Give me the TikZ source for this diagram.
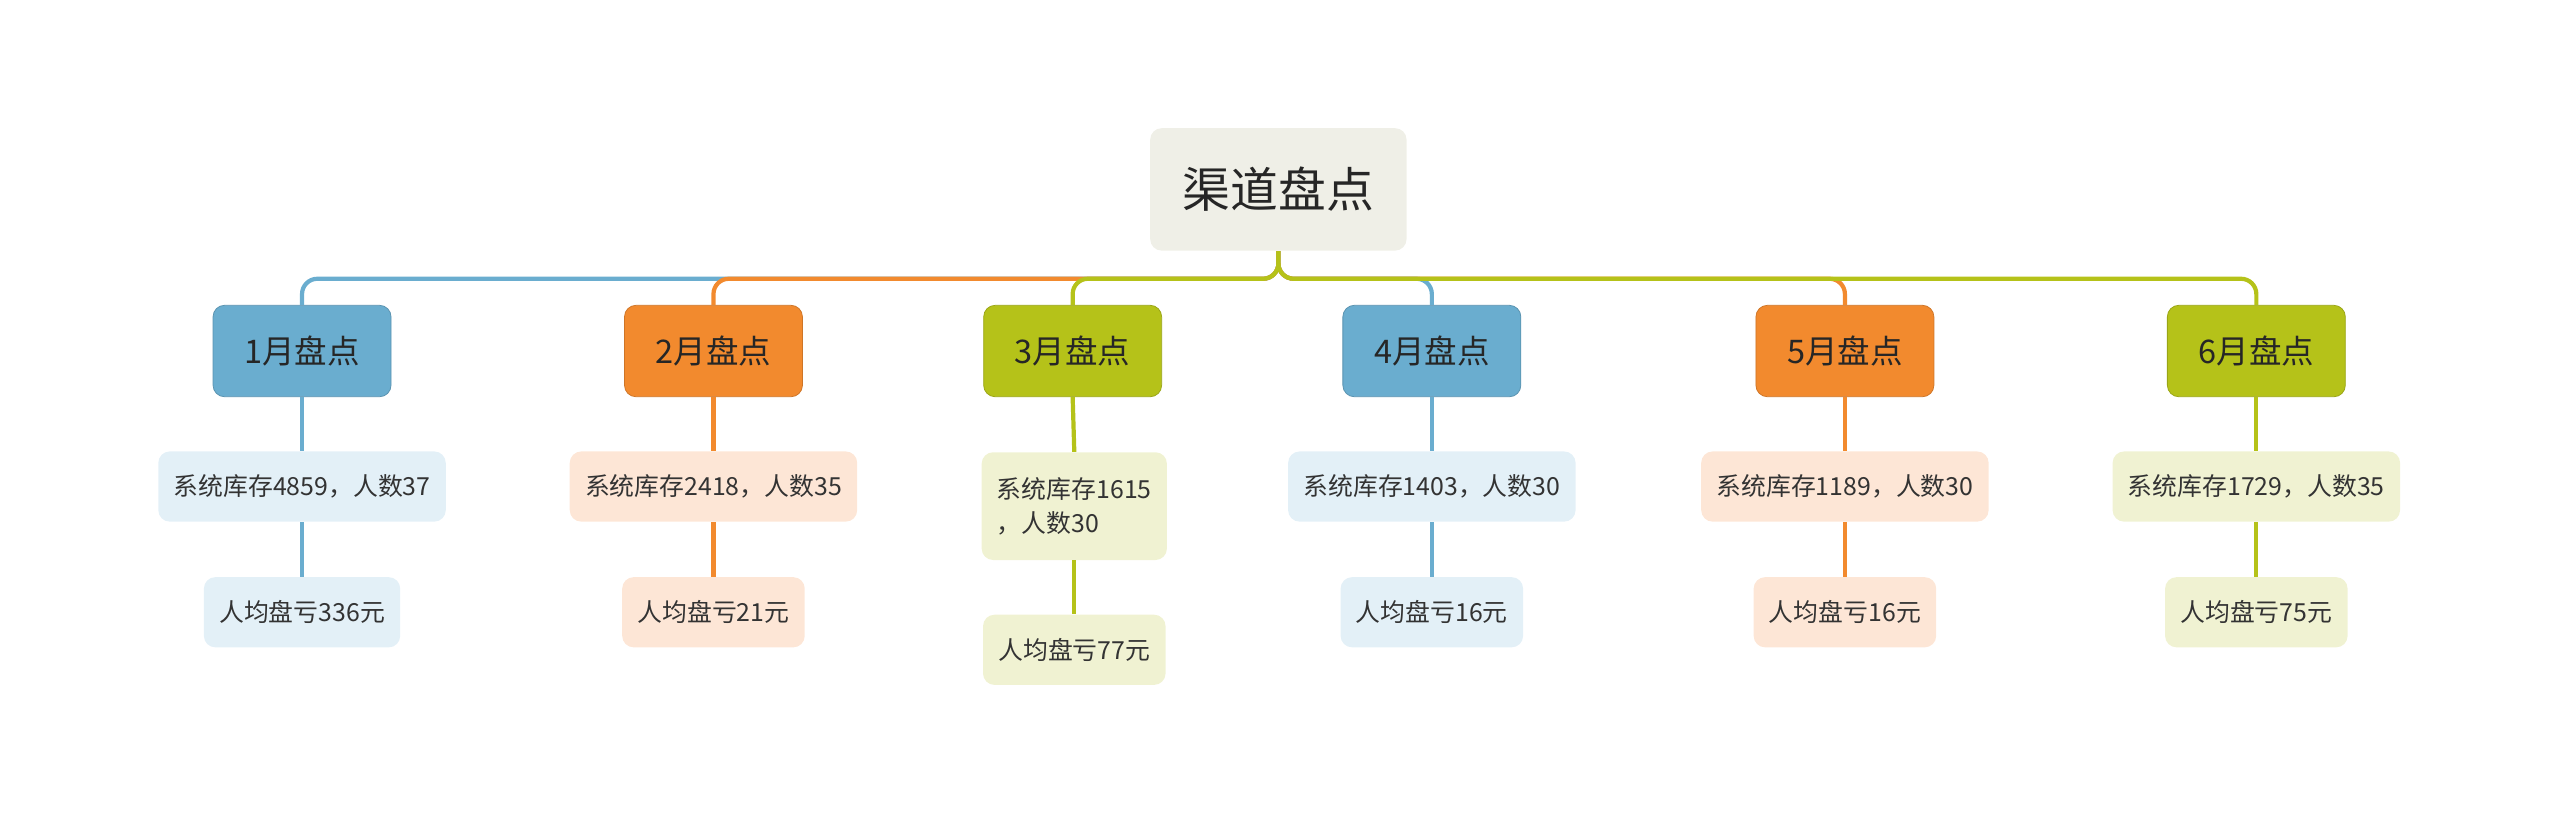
\documentclass[tikz,border=0pt]{standalone}
\usepackage{fontspec}
\setmainfont{Noto Sans CJK SC}
\usetikzlibrary{positioning}
\definecolor{cblue}{HTML}{6AADCF}
\definecolor{corange}{HTML}{F28A2E}
\definecolor{cgreen}{HTML}{B5C219}
\definecolor{lblue}{HTML}{E3F0F7}
\definecolor{lorange}{HTML}{FDE6D6}
\definecolor{lgreen}{HTML}{F0F2D2}
\definecolor{rootfill}{HTML}{EFEFE7}
\begin{document}
\begin{tikzpicture}[
  x=0.03cm, y=-0.03cm,
  root/.style={rounded corners=6pt, fill=rootfill, minimum width=4.71cm, minimum height=2.25cm,
    font=\fontsize{25}{30}\selectfont, text=black!85},
  month/.style={rounded corners=6pt, draw=#1!85!black, fill=#1, minimum width=3.27cm,
    minimum height=1.68cm, font=\fontsize{17}{20}\selectfont, text=black!85},
  info/.style={rounded corners=6pt, fill=#1, minimum height=1.29cm, inner xsep=8pt,
    font=\fontsize{13}{18}\selectfont, text=black!80},
  link/.style={line width=2.2pt, rounded corners=8pt}
]
\useasboundingbox (0,0) rectangle (1568,499);

% Root
\node[root] (r) at (783,116) {渠道盘点};

% Months
\node[month=cblue]   (m1) at (185,215) {1月盘点};
\node[month=corange] (m2) at (437,215) {2月盘点};
\node[month=cgreen]  (m3) at (657,215) {3月盘点};
\node[month=cblue]   (m4) at (877,215) {4月盘点};
\node[month=corange] (m5) at (1130,215) {5月盘点};
\node[month=cgreen]  (m6) at (1382,215) {6月盘点};

% Stock and headcount
\node[info=lblue]   (s1) at (185,298) {系统库存4859，人数37};
\node[info=lorange] (s2) at (437,298) {系统库存2418，人数35};
\node[info=lgreen, minimum height=1.98cm, align=left] (s3) at (658,310) {系统库存1615\\，人数30};
\node[info=lblue]   (s4) at (877,298) {系统库存1403，人数30};
\node[info=lorange] (s5) at (1130,298) {系统库存1189，人数30};
\node[info=lgreen]  (s6) at (1382,298) {系统库存1729，人数35};

% Loss per person
\node[info=lblue]   (p1) at (185,375) {人均盘亏336元};
\node[info=lorange] (p2) at (437,375) {人均盘亏21元};
\node[info=lgreen]  (p3) at (658,398) {人均盘亏77元};
\node[info=lblue]   (p4) at (877,375) {人均盘亏16元};
\node[info=lorange] (p5) at (1130,375) {人均盘亏16元};
\node[info=lgreen]  (p6) at (1382,375) {人均盘亏75元};

% Connections
\foreach \i/\c in {1/cblue,2/corange,4/cblue,5/corange,3/cgreen,6/cgreen} {
  \draw[link, \c] (r.south) -- ++(0,17) -| (m\i.north);
  \draw[link, \c] (m\i.south) -- (s\i.north);
  \draw[link, \c] (s\i.south) -- (p\i.north);
}
\end{tikzpicture}
\end{document}
